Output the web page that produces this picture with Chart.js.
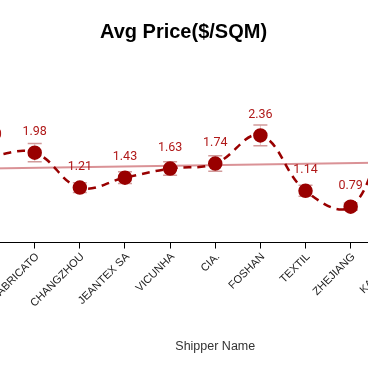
<!DOCTYPE html>
<html><head><meta charset="utf-8">
<script src="https://cdn.jsdelivr.net/npm/chart.js@4/dist/chart.umd.min.js"></script>
<style>
html,body{margin:0;padding:0;overflow:hidden;background:#fff;width:368px;height:371px}
#wrap{position:absolute;left:-105px;top:0;width:577px;height:371px}
</style></head>
<body><div id="wrap"><canvas id="c" width="577" height="371"></canvas></div>
<script>
const shippers = ['SANTISTA','FABRICATO','CHANGZHOU','JEANTEX SA','VICUNHA','CIA.','FOSHAN','TEXTIL','ZHEJIANG','KARSTEN','ARVIND'];
const avgPrice = [1.90,1.98,1.21,1.43,1.63,1.74,2.36,1.14,0.79,2.55,2.10];
const priceError = [0.19,0.20,0.11,0.13,0.15,0.17,0.23,0.12,0.08,0.25,0.21];
const trendStart = 1.63;
const trendEnd = 1.78;

const trendData = shippers.map((_, i) => i === 0 ? trendStart : (i === shippers.length - 1 ? trendEnd : null));

const errorBars = {
  id: 'errorBars',
  beforeDatasetsDraw(chart) {
    const ctx = chart.ctx, y = chart.scales.y, meta = chart.getDatasetMeta(1);
    ctx.save();
    meta.data.forEach((pt, i) => {
      const v = avgPrice[i], e = priceError[i];
      const top = y.getPixelForValue(v + e), bot = y.getPixelForValue(v - e);
      ctx.strokeStyle = '#e3c4c4'; ctx.lineWidth = 1;
      ctx.beginPath(); ctx.moveTo(pt.x, top); ctx.lineTo(pt.x, bot); ctx.stroke();
      ctx.strokeStyle = '#d29a9a'; ctx.lineWidth = 1.5;
      ctx.beginPath();
      ctx.moveTo(pt.x - 7, top); ctx.lineTo(pt.x + 7, top);
      ctx.moveTo(pt.x - 7, bot); ctx.lineTo(pt.x + 7, bot);
      ctx.stroke();
    });
    ctx.restore();
  }
};

const valueLabels = {
  id: 'valueLabels',
  afterDatasetsDraw(chart) {
    const ctx = chart.ctx, meta = chart.getDatasetMeta(1);
    ctx.save();
    ctx.font = '12.5px Roboto';
    ctx.fillStyle = '#b01818';
    ctx.textAlign = 'center';
    ctx.textBaseline = 'middle';
    meta.data.forEach((pt, i) => {
      ctx.fillText(avgPrice[i].toFixed(2), pt.x, pt.y - 21);
    });
    ctx.restore();
  }
};

const tickLabels = {
  id: 'tickLabels',
  afterDraw(chart) {
    const ctx = chart.ctx, sx = chart.scales.x;
    ctx.save();
    ctx.font = '11px "Liberation Sans"';
    ctx.fillStyle = '#222';
    ctx.textAlign = 'right';
    ctx.textBaseline = 'middle';
    shippers.forEach((name, i) => {
      ctx.save();
      ctx.translate(sx.getPixelForTick(i) + 2.7, sx.top + 12.5);
      ctx.rotate(-Math.PI / 4);
      ctx.fillText(name, 0, 0);
      ctx.restore();
    });
    ctx.restore();
  }
};

new Chart(document.getElementById('c'), {
  type: 'line',
  data: {
    labels: shippers,
    datasets: [
      {
        label: 'Trend',
        data: trendData,
        spanGaps: true,
        borderColor: 'rgba(205,110,115,0.75)',
        borderWidth: 2,
        pointRadius: 0,
        tension: 0,
        order: 2
      },
      {
        label: 'Avg Price',
        data: avgPrice,
        borderColor: '#990000',
        borderWidth: 2.5,
        borderDash: [8, 6],
        backgroundColor: '#990000',
        pointBackgroundColor: '#990000',
        pointBorderColor: '#990000',
        pointRadius: 6,
        tension: 0.4,
        order: 1
      }
    ]
  },
  options: {
    responsive: false,
    animation: false,
    devicePixelRatio: 1,
    layout: { padding: { left: 0, right: 0, top: 0, bottom: 17 } },
    plugins: {
      legend: { display: false },
      tooltip: { enabled: false },
      title: {
        display: true,
        text: 'Avg Price($/SQM)',
        color: '#000',
        font: { family: 'Liberation Sans', size: 20, weight: 'bold' },
        padding: { top: 20, bottom: 17 }
      }
    },
    scales: {
      x: {
        offset: true,
        grid: { display: true, offset: false, drawOnChartArea: false, drawTicks: true, tickLength: 6, color: '#000' },
        border: { display: true, color: '#000', width: 1 },
        ticks: { color: 'rgba(0,0,0,0)', font: { family: 'Liberation Sans', size: 11 }, minRotation: 45, maxRotation: 45, autoSkip: false, padding: 7 },
        title: { display: true, text: 'Shipper Name', color: '#333', font: { family: 'Liberation Sans', size: 12.5 }, padding: { top: 17, bottom: 0 } }
      },
      y: {
        display: true,
        min: 0,
        max: 4,
        grid: { display: false },
        border: { display: false },
        ticks: { color: '#333', font: { family: 'Liberation Sans', size: 11 } },
        afterFit(scale) { scale.width = 72; }
      }
    }
  },
  plugins: [errorBars, valueLabels, tickLabels]
});
</script>
</body></html>
